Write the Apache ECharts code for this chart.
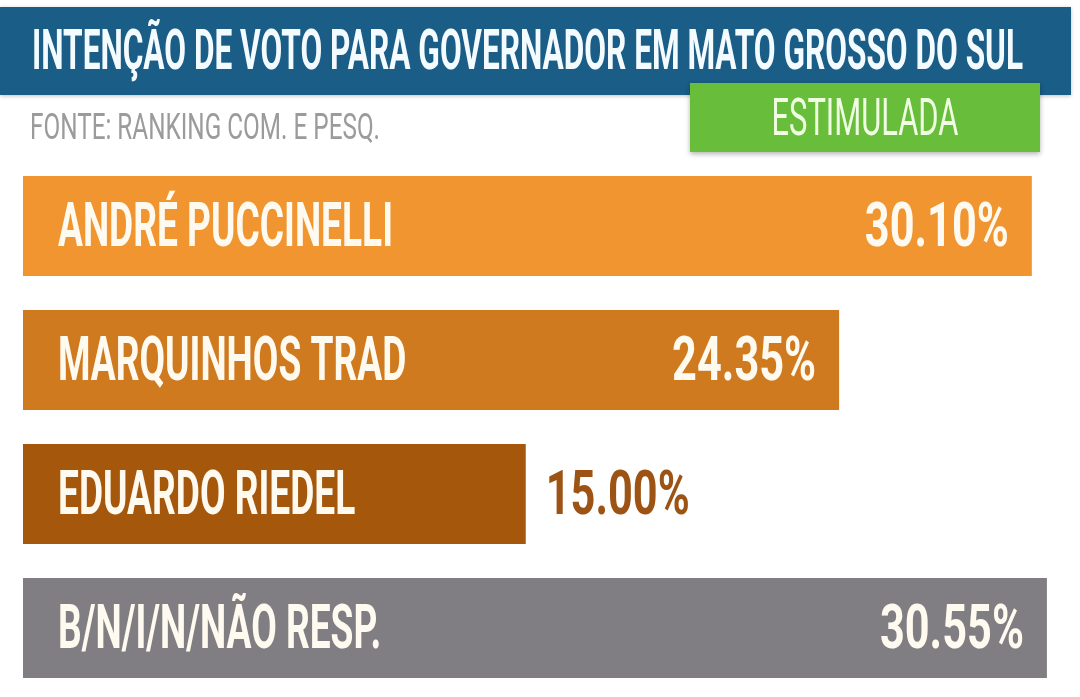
<!DOCTYPE html>
<html>
<head>
<meta charset="utf-8">
<style>
  html, body { margin: 0; padding: 0; background: #ffffff; }
  #chart { width: 1080px; height: 697px; }
</style>
<script src="https://cdn.jsdelivr.net/npm/echarts@6/dist/echarts.min.js"></script>
</head>
<body>
<div id="chart"></div>
<script>
// ---- data ----
const titleText = 'INTENÇÃO DE VOTO PARA GOVERNADOR EM MATO GROSSO DO SUL';
const sourceText = 'FONTE: RANKING COM. E PESQ.';
const badgeText = 'ESTIMULADA';
const categories = ['ANDRÉ PUCCINELLI', 'MARQUINHOS TRAD', 'EDUARDO RIEDEL', 'B/N/I/N/NÃO RESP.'];
const values = [30.10, 24.35, 15.00, 30.55];

// ---- styles ----
const barColors = ['#f0952f', '#d07a1f', '#a5580c', '#807e82'];
const outsideLabelColor = '#9c5314';
const FONT = 'Roboto, "Liberation Sans", sans-serif';

const mctx = document.createElement('canvas').getContext('2d');
function fitScale(text, size, weight, target) {
  mctx.font = weight + ' ' + size + 'px ' + FONT;
  return target / mctx.measureText(text).width;
}

const TITLE_SIZE = 56;
const titleScale = fitScale(titleText, TITLE_SIZE, 'bold', 991);
const SRC_SIZE = 36;
const srcScale = fitScale(sourceText, SRC_SIZE, 'normal', 350);
const BADGE_SIZE = 51;
const badgeScale = fitScale(badgeText, BADGE_SIZE, 'normal', 187);
const LABEL_SIZE = 62;
const nameScale = fitScale('ANDRÉ PUCCINELLI', LABEL_SIZE, 'bold', 335);
const valueScale = fitScale('30.10%', LABEL_SIZE, 'bold', 144);

const chart = echarts.init(document.getElementById('chart'), null, { renderer: 'canvas' });

function txt(text, x, y, size, weight, fill, align, sx) {
  return {
    type: 'text', x: x, y: y, scaleX: sx,
    style: {
      text: text, fontFamily: FONT, fontSize: size, fontWeight: weight, fill: fill,
      align: align, verticalAlign: 'middle', textAlign: align, textVerticalAlign: 'middle'
    }
  };
}

const option = {
  backgroundColor: '#ffffff',
  animation: false,
  grid: { left: 23, right: 18, top: 159, bottom: 2 },
  xAxis: { type: 'value', min: 0, max: 31, show: false },
  yAxis: { type: 'category', data: categories, inverse: true, show: false },
  graphic: [
    { type: 'rect', shape: { x: 0, y: 7, width: 1071, height: 88 },
      style: { fill: '#1a5d86', shadowBlur: 4, shadowColor: 'rgba(0,0,0,0.25)', shadowOffsetY: 1 }, z: 1 },
    Object.assign(txt(titleText, 32, 55, TITLE_SIZE, 'bold', '#f4fbff', 'left', titleScale), { z: 2 }),
    Object.assign(txt(sourceText, 30, 130, SRC_SIZE, 'normal', '#9b9b9b', 'left', srcScale), { z: 2 }),
    { type: 'rect', shape: { x: 690, y: 83, width: 350, height: 69 },
      style: { fill: '#68bd3b', shadowBlur: 5, shadowColor: 'rgba(0,0,0,0.3)', shadowOffsetY: 2 }, z: 3 },
    Object.assign(txt(badgeText, 865, 122, BADGE_SIZE, 'normal', '#effde2', 'center', badgeScale), { z: 4 })
  ],
  series: [
    {
      type: 'bar',
      data: values.map((v, i) => ({ value: v, itemStyle: { color: barColors[i] } })),
      barCategoryGap: '25.4%',
      label: { show: false },
      silent: true,
      z: 2
    },
    {
      type: 'custom',
      data: values.map((v, i) => [v, i]),
      silent: true,
      z: 5,
      renderItem: function (params, api) {
        const v = api.value(0);
        const idx = api.value(1);
        const start = api.coord([0, idx]);
        const end = api.coord([v, idx]);
        const inside = v >= 20;
        const children = [
          txt(categories[idx], start[0] + 35, start[1] + 4, LABEL_SIZE, 'bold', '#fffaf0', 'left', nameScale)
        ];
        const valStr = v.toFixed(2) + '%';
        if (inside) {
          children.push(txt(valStr, end[0] - 23, end[1] + 4, LABEL_SIZE, 'bold', '#fffaf0', 'right', valueScale));
        } else {
          children.push(txt(valStr, end[0] + 20, end[1] + 4, LABEL_SIZE, 'bold', outsideLabelColor, 'left', valueScale));
        }
        return { type: 'group', children: children };
      }
    }
  ]
};
chart.setOption(option);
</script>
</body>
</html>
